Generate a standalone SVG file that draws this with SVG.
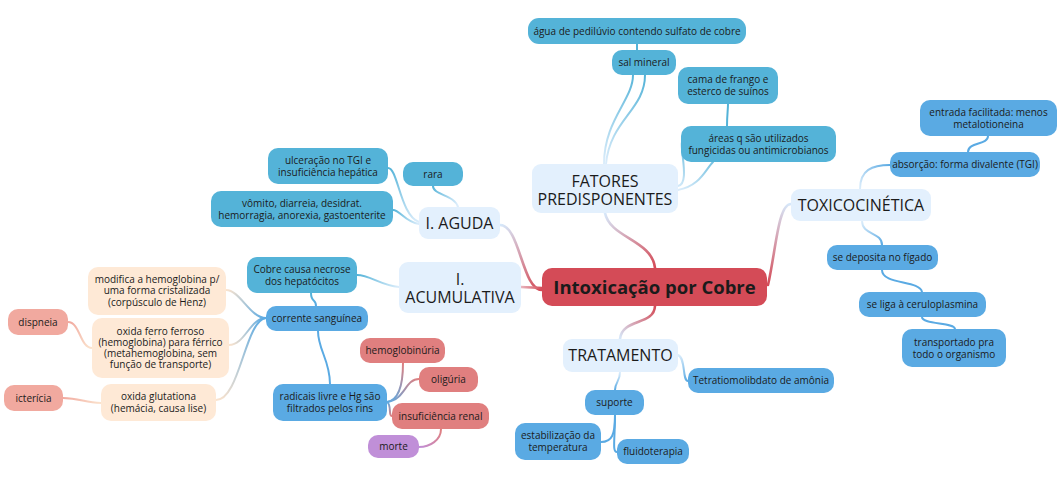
<svg xmlns="http://www.w3.org/2000/svg" width="1063" height="497" viewBox="0 0 1063 497">
<style>
text{font-family:"Open Sans","Noto Sans",sans-serif;fill:#1b1b1b;text-anchor:middle}
.s{font-size:10px}
.t{font-size:16px}
.m{font-size:18.5px;font-weight:bold}
.topic{fill:#e3f0fd}
.cy{fill:#54b3d8}
.bl{fill:#5aaae3}
.pe{fill:#fee9d6}
.sa{fill:#f1a99f}
.rd{fill:#e07f7f}
.pu{fill:#c08fd8}
.ctr{fill:#d44b57}
.cn path{fill:none;stroke-linecap:round}
.w3{stroke-width:2.6}
.w2{stroke-width:2}
</style>
<defs>
<linearGradient id="g1" gradientUnits="userSpaceOnUse" x1="542" y1="290" x2="500" y2="225"><stop offset="0" stop-color="#d44b57"/><stop offset="1" stop-color="#d6e8fa"/></linearGradient>
<linearGradient id="g2" gradientUnits="userSpaceOnUse" x1="542" y1="288" x2="521" y2="287"><stop offset="0" stop-color="#d44b57"/><stop offset="1" stop-color="#e8b7c0"/></linearGradient>
<linearGradient id="g3" gradientUnits="userSpaceOnUse" x1="655" y1="268" x2="605" y2="213"><stop offset="0" stop-color="#d44b57"/><stop offset="1" stop-color="#d6e8fa"/></linearGradient>
<linearGradient id="g4" gradientUnits="userSpaceOnUse" x1="768" y1="285" x2="791" y2="204"><stop offset="0" stop-color="#d44b57"/><stop offset="1" stop-color="#d6e8fa"/></linearGradient>
<linearGradient id="g5" gradientUnits="userSpaceOnUse" x1="655" y1="306" x2="620" y2="339"><stop offset="0" stop-color="#d44b57"/><stop offset="1" stop-color="#d6e8fa"/></linearGradient>
<linearGradient id="gfc" gradientUnits="userSpaceOnUse" x1="605" y1="164" x2="640" y2="75"><stop offset="0" stop-color="#dcedfb"/><stop offset="1" stop-color="#54b3d8"/></linearGradient>
<linearGradient id="gfa" gradientUnits="userSpaceOnUse" x1="678" y1="190" x2="700" y2="142"><stop offset="0" stop-color="#dcedfb"/><stop offset="1" stop-color="#54b3d8"/></linearGradient>
<linearGradient id="gtb1" gradientUnits="userSpaceOnUse" x1="860" y1="189" x2="890" y2="165"><stop offset="0" stop-color="#dcedfb"/><stop offset="1" stop-color="#5aaae3"/></linearGradient>
<linearGradient id="gtb2" gradientUnits="userSpaceOnUse" x1="862" y1="221" x2="882" y2="245"><stop offset="0" stop-color="#dcedfb"/><stop offset="1" stop-color="#5aaae3"/></linearGradient>
<linearGradient id="gtb3" gradientUnits="userSpaceOnUse" x1="678" y1="355" x2="688" y2="381"><stop offset="0" stop-color="#dcedfb"/><stop offset="1" stop-color="#5aaae3"/></linearGradient>
<linearGradient id="gtb4" gradientUnits="userSpaceOnUse" x1="620" y1="372" x2="615" y2="390"><stop offset="0" stop-color="#dcedfb"/><stop offset="1" stop-color="#5aaae3"/></linearGradient>
<linearGradient id="gac1" gradientUnits="userSpaceOnUse" x1="455" y1="207" x2="433" y2="186"><stop offset="0" stop-color="#dcedfb"/><stop offset="1" stop-color="#54b3d8"/></linearGradient>
<linearGradient id="gac2" gradientUnits="userSpaceOnUse" x1="419" y1="222" x2="388" y2="168"><stop offset="0" stop-color="#dcedfb"/><stop offset="1" stop-color="#54b3d8"/></linearGradient>
<linearGradient id="gac3" gradientUnits="userSpaceOnUse" x1="419" y1="224" x2="393" y2="210"><stop offset="0" stop-color="#dcedfb"/><stop offset="1" stop-color="#54b3d8"/></linearGradient>
<linearGradient id="gac4" gradientUnits="userSpaceOnUse" x1="399" y1="287" x2="357" y2="275"><stop offset="0" stop-color="#dcedfb"/><stop offset="1" stop-color="#54b3d8"/></linearGradient>
<linearGradient id="gcb" gradientUnits="userSpaceOnUse" x1="311" y1="293" x2="316" y2="306"><stop offset="0" stop-color="#54b3d8"/><stop offset="1" stop-color="#5aaae3"/></linearGradient>
<linearGradient id="gbp1" gradientUnits="userSpaceOnUse" x1="266" y1="318" x2="226" y2="290"><stop offset="0" stop-color="#5aaae3"/><stop offset="1" stop-color="#fbe3cd"/></linearGradient>
<linearGradient id="gbp2" gradientUnits="userSpaceOnUse" x1="266" y1="318" x2="229" y2="345"><stop offset="0" stop-color="#5aaae3"/><stop offset="1" stop-color="#fbe3cd"/></linearGradient>
<linearGradient id="gbp3" gradientUnits="userSpaceOnUse" x1="266" y1="318" x2="216" y2="400"><stop offset="0" stop-color="#5aaae3"/><stop offset="1" stop-color="#fbe3cd"/></linearGradient>
<linearGradient id="gbr1" gradientUnits="userSpaceOnUse" x1="387" y1="402" x2="403" y2="363"><stop offset="0" stop-color="#5aaae3"/><stop offset="1" stop-color="#e07f7f"/></linearGradient>
<linearGradient id="gbr2" gradientUnits="userSpaceOnUse" x1="387" y1="402" x2="419" y2="379"><stop offset="0" stop-color="#5aaae3"/><stop offset="1" stop-color="#e07f7f"/></linearGradient>
<linearGradient id="gbr3" gradientUnits="userSpaceOnUse" x1="387" y1="402" x2="392" y2="416"><stop offset="0" stop-color="#5aaae3"/><stop offset="1" stop-color="#e07f7f"/></linearGradient>
<linearGradient id="grp" gradientUnits="userSpaceOnUse" x1="441" y1="429" x2="419" y2="447"><stop offset="0" stop-color="#e07f7f"/><stop offset="1" stop-color="#c08fd8"/></linearGradient>
<linearGradient id="gps1" gradientUnits="userSpaceOnUse" x1="92" y1="348" x2="68" y2="322"><stop offset="0" stop-color="#fbe3cd"/><stop offset="1" stop-color="#f1a99f"/></linearGradient>
<linearGradient id="gps2" gradientUnits="userSpaceOnUse" x1="101" y1="403" x2="63" y2="398"><stop offset="0" stop-color="#fbe3cd"/><stop offset="1" stop-color="#f1a99f"/></linearGradient>
</defs>
<rect width="1063" height="497" fill="#ffffff"/>
<g id="connectors" class="cn">
<path class="w3" stroke="url(#g1)" d="M542,290 C522,290 520,225 500,225"/>
<path class="w3" stroke="url(#g2)" d="M542,288 C534,288 530,287 521,287"/>
<path class="w3" stroke="url(#g3)" d="M655,268 C652,240 610,238 605,213"/>
<path class="w3" stroke="url(#g4)" d="M768,285 C776,250 778,204 791,204"/>
<path class="w3" stroke="url(#g5)" d="M655,306 C654,326 622,318 620,339"/>
<path class="w2" stroke="url(#gfc)" d="M604,164 C604,120 633,100 633,75"/>
<path class="w2" stroke="url(#gfc)" d="M606,164 C610,120 645,110 645,75"/>
<path class="w2" stroke="#54b3d8" d="M637,50 L637,44"/>
<path class="w2" stroke="url(#gfa)" d="M678,186 C690,184 680,150 682,142"/>
<path class="w2" stroke="url(#gfa)" d="M678,190 C700,186 705,170 713,162"/>
<path class="w2" stroke="#54b3d8" d="M727,126 C727,115 728,110 728,104"/>
<path class="w2" stroke="url(#gtb1)" d="M860,189 C860,170 872,165 890,165"/>
<path class="w2" stroke="#5aaae3" d="M968,152 C968,142 988,145 988,136"/>
<path class="w2" stroke="url(#gtb2)" d="M862,221 C862,235 882,232 882,245"/>
<path class="w2" stroke="#5aaae3" d="M882,270 C882,285 920,280 922,292"/>
<path class="w2" stroke="#5aaae3" d="M922,317 C922,325 955,322 955,329"/>
<path class="w2" stroke="url(#gtb3)" d="M678,355 C686,358 682,381 688,381"/>
<path class="w2" stroke="url(#gtb4)" d="M620,372 C620,382 615,382 615,390"/>
<path class="w2" stroke="#5aaae3" d="M615,415 C615,435 612,442 601,442"/>
<path class="w2" stroke="#5aaae3" d="M615,415 C615,440 612,452 617,452"/>
<path class="w2" stroke="url(#gac1)" d="M458,207 C455,195 433,195 433,186"/>
<path class="w2" stroke="url(#gac2)" d="M419,222 C400,215 398,168 388,168"/>
<path class="w2" stroke="url(#gac3)" d="M419,224 C405,222 400,210 393,210"/>
<path class="w2" stroke="url(#gac4)" d="M399,287 C380,285 370,275 357,275"/>
<path class="w2" stroke="url(#gcb)" d="M311,293 C311,303 316,298 316,306"/>
<path class="w2" stroke="url(#gbp1)" d="M266,318 C250,318 240,290 226,290"/>
<path class="w2" stroke="url(#gbp2)" d="M266,318 C250,318 245,345 229,345"/>
<path class="w2" stroke="url(#gbp3)" d="M266,318 C245,320 240,400 216,400"/>
<path class="w2" stroke="#5aaae3" d="M318,331 C318,350 330,360 330,384"/>
<path class="w2" stroke="url(#gbr1)" d="M387,402 C400,400 403,380 403,363"/>
<path class="w2" stroke="url(#gbr2)" d="M387,402 C405,400 405,379 419,379"/>
<path class="w2" stroke="url(#gbr3)" d="M387,402 C392,405 388,416 392,416"/>
<path class="w2" stroke="url(#grp)" d="M441,429 C441,440 430,447 419,447"/>
<path class="w2" stroke="url(#gps1)" d="M92,348 C80,348 80,322 68,322"/>
<path class="w2" stroke="url(#gps2)" d="M101,403 C85,403 80,398 63,398"/>
</g>
<g id="center"><rect class="ctr" x="542" y="268" width="225" height="38" rx="10"/><text class="m" x="654.5" y="293.5">Intoxicação por Cobre</text></g>
<g id="aguda"><rect class="topic" x="419" y="207" width="81" height="32" rx="9"/><text class="t" x="459.5" y="228.7">I. AGUDA</text></g>
<g id="acumulativa"><rect class="topic" x="399" y="262" width="122" height="51" rx="9"/><text class="t" x="460" y="285">I.</text><text class="t" x="460" y="302.5">ACUMULATIVA</text></g>
<g id="fatores"><rect class="topic" x="532" y="164" width="146" height="49" rx="9"/><text class="t" x="605" y="187">FATORES</text><text class="t" x="605" y="205">PREDISPONENTES</text></g>
<g id="toxico"><rect class="topic" x="791" y="189" width="140" height="32" rx="9"/><text class="t" x="861" y="211">TOXICOCINÉTICA</text></g>
<g id="tratamento"><rect class="topic" x="563" y="339" width="115" height="33" rx="9"/><text class="t" x="620.5" y="361">TRATAMENTO</text></g>
<g id="ulceracao"><rect class="cy" x="268" y="148" width="120" height="36" rx="10"/><text class="s" x="328" y="164.3">ulceração no TGI e</text><text class="s" x="328" y="176">insuficiência hepática</text></g>
<g id="rara"><rect class="cy" x="403" y="162" width="60" height="24" rx="10"/><text class="s" x="433" y="177.6">rara</text></g>
<g id="vomito"><rect class="cy" x="211" y="191" width="182" height="36" rx="10"/><text class="s" x="302" y="207">vômito, diarreia, desidrat.</text><text class="s" x="302" y="218.7">hemorragia, anorexia, gastoenterite</text></g>
<g id="necrose"><rect class="cy" x="247" y="257" width="110" height="36" rx="10"/><text class="s" x="302" y="273">Cobre causa necrose</text><text class="s" x="302" y="284.7">dos hepatócitos</text></g>
<g id="corrente"><rect class="bl" x="266" y="306" width="102" height="25" rx="10"/><text class="s" x="317" y="322">corrente sanguínea</text></g>
<g id="modifica"><rect class="pe" x="88" y="267" width="138" height="48" rx="10"/><text class="s" x="157" y="283">modifica a hemoglobina p/</text><text class="s" x="157" y="294.3">uma forma cristalizada</text><text class="s" x="157" y="305.6">(corpúsculo de Henz)</text></g>
<g id="oxidaferro"><rect class="pe" x="92" y="318" width="137" height="60" rx="10"/><text class="s" x="160.5" y="334.5">oxida ferro ferroso</text><text class="s" x="160.5" y="345.6">(hemoglobina) para férrico</text><text class="s" x="160.5" y="356.7">(metahemoglobina, sem</text><text class="s" x="160.5" y="367.8">função de transporte)</text></g>
<g id="glutationa"><rect class="pe" x="101" y="384" width="115" height="37" rx="10"/><text class="s" x="158.5" y="400">oxida glutationa</text><text class="s" x="158.5" y="411.7">(hemácia, causa lise)</text></g>
<g id="dispneia"><rect class="sa" x="8" y="309" width="60" height="26" rx="10"/><text class="s" x="38" y="325.5">dispneia</text></g>
<g id="ictericia"><rect class="sa" x="4" y="385" width="59" height="26" rx="10"/><text class="s" x="33.5" y="401.5">icterícia</text></g>
<g id="hemoglobinuria"><rect class="rd" x="360" y="338" width="85" height="25" rx="10"/><text class="s" x="402.5" y="354">hemoglobinúria</text></g>
<g id="oliguria"><rect class="rd" x="419" y="367" width="59" height="25" rx="10"/><text class="s" x="448.5" y="383">oligúria</text></g>
<g id="radicais"><rect class="bl" x="273" y="384" width="114" height="37" rx="10"/><text class="s" x="330" y="400.3">radicais livre e Hg são</text><text class="s" x="330" y="412">filtrados pelos rins</text></g>
<g id="insuficiencia"><rect class="rd" x="392" y="403" width="97" height="26" rx="10"/><text class="s" x="440.5" y="419.5">insuficiência renal</text></g>
<g id="morte"><rect class="pu" x="368" y="435" width="51" height="23" rx="10"/><text class="s" x="393.5" y="450">morte</text></g>
<g id="agua"><rect class="cy" x="528" y="18" width="218" height="26" rx="11"/><text class="s" x="637" y="34.5">água de pedilúvio contendo sulfato de cobre</text></g>
<g id="sal"><rect class="cy" x="612" y="50" width="64" height="25" rx="10"/><text class="s" x="644" y="66">sal mineral</text></g>
<g id="cama"><rect class="cy" x="678" y="67" width="100" height="37" rx="10"/><text class="s" x="728" y="83.3">cama de frango e</text><text class="s" x="728" y="95">esterco de suínos</text></g>
<g id="areas"><rect class="cy" x="681" y="126" width="155" height="36" rx="10"/><text class="s" x="758.5" y="142.3">áreas q são utilizados</text><text class="s" x="758.5" y="154">fungicidas ou antimicrobianos</text></g>
<g id="entrada"><rect class="bl" x="920" y="100" width="137" height="36" rx="10"/><text class="s" x="988.5" y="116.3">entrada facilitada: menos</text><text class="s" x="988.5" y="128">metalotioneina</text></g>
<g id="absorcao"><rect class="bl" x="890" y="152" width="150" height="25" rx="10"/><text class="s" x="965" y="168">absorção: forma divalente (TGI)</text></g>
<g id="deposita"><rect class="bl" x="827" y="245" width="111" height="25" rx="10"/><text class="s" x="882.5" y="261">se deposita no fígado</text></g>
<g id="liga"><rect class="bl" x="859" y="292" width="127" height="25" rx="10"/><text class="s" x="922.5" y="308">se liga à ceruloplasmina</text></g>
<g id="transportado"><rect class="bl" x="902" y="329" width="104" height="38" rx="10"/><text class="s" x="954" y="345.8">transportado pra</text><text class="s" x="954" y="357.5">todo o organismo</text></g>
<g id="tetratio"><rect class="bl" x="688" y="368" width="146" height="25" rx="10"/><text class="s" x="761" y="384">Tetratiomolibdato de amônia</text></g>
<g id="suporte"><rect class="bl" x="585" y="390" width="59" height="25" rx="10"/><text class="s" x="614.5" y="406">suporte</text></g>
<g id="estabilizacao"><rect class="bl" x="515" y="423" width="86" height="37" rx="10"/><text class="s" x="558" y="439.3">estabilização da</text><text class="s" x="558" y="451">temperatura</text></g>
<g id="fluidoterapia"><rect class="bl" x="617" y="439" width="72" height="25" rx="10"/><text class="s" x="653" y="455">fluidoterapia</text></g>
</svg>
